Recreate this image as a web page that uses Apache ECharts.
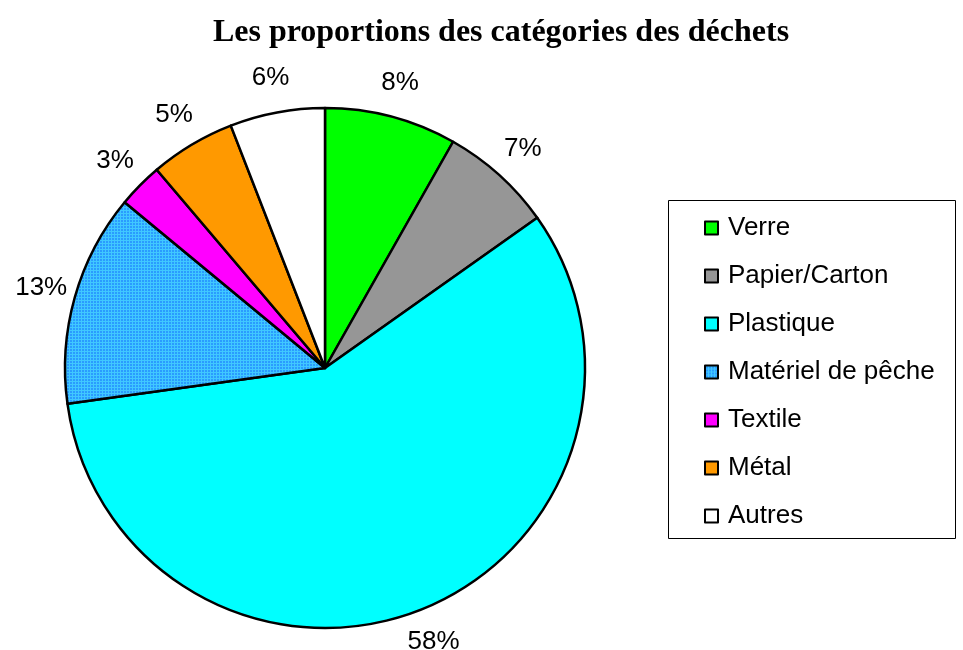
<!DOCTYPE html>
<html><head><meta charset="utf-8">
<script src="https://cdn.jsdelivr.net/npm/echarts@6/dist/echarts.min.js"></script>
<style>html,body{margin:0;padding:0;background:#fff}#c{width:963px;height:650px}</style>
</head><body><div id="c"></div>
<script>
const categories = ['Verre','Papier/Carton','Plastique','Matériel de pêche','Textile','Métal','Autres'];
const values = [8.2, 7.0, 57.6, 13.2, 2.8, 5.3, 5.9];
const colors = ['#00FF00','#969696','#00FFFF','pattern','#FF00FF','#FF9900','#FFFFFF'];

const pc = document.createElement('canvas');
pc.width = 3; pc.height = 3;
const g = pc.getContext('2d');
g.fillStyle = '#2A9CFF'; g.fillRect(0,0,3,3);
g.fillStyle = '#40C8FF'; g.fillRect(0,0,3,1); g.fillRect(0,0,1,3);
const pattern = {image: pc, repeat: 'repeat'};

const chart = echarts.init(document.getElementById('c'));
chart.setOption({
  animation: false,
  title: {text: 'Les proportions des catégories des déchets', left: 496, textAlign: 'center', top: 12,
    textStyle: {fontFamily: 'Liberation Serif', fontWeight: 'bold', fontSize: 32, color: '#000'}},
  legend: {orient: 'vertical', left: 704, top: 215, padding: 0, itemWidth: 13, itemHeight: 13, itemGap: 22, icon: 'rect',
    textStyle: {fontFamily: 'Liberation Sans', fontSize: 26, lineHeight: 26, color: '#000', padding: [0,0,0,5]},
    data: categories},
  graphic: [{type: 'rect', shape: {x: 668.5, y: 200.5, width: 287, height: 338}, style: {fill: 'none', stroke: '#000', lineWidth: 1}, z: -1}],
  series: [{
    type: 'pie', center: [325, 368], radius: 260, startAngle: 90, clockwise: true,
    itemStyle: {borderColor: '#000', borderWidth: 2.5},
    label: {show: false},
    emphasis: {disabled: true},
    data: categories.map((n, i) => ({name: n, value: values[i], itemStyle: {color: colors[i] === 'pattern' ? pattern : colors[i]}}))
  }, {
    type: 'pie', center: [325, 368], radius: [262, 322], startAngle: 90, clockwise: true, silent: true,
    legendHoverLink: false,
    itemStyle: {color: 'rgba(0,0,0,0)', borderWidth: 0},
    label: {show: true, position: 'inside', overflow: 'none', fontFamily: 'Liberation Sans', fontSize: 26, color: '#000',
      formatter: p => Math.round(p.value) + '%'},
    labelLine: {show: false},
    emphasis: {disabled: true},
    data: categories.map((n, i) => ({name: n + ' ', value: values[i]}))
  }]
});
</script></body></html>
